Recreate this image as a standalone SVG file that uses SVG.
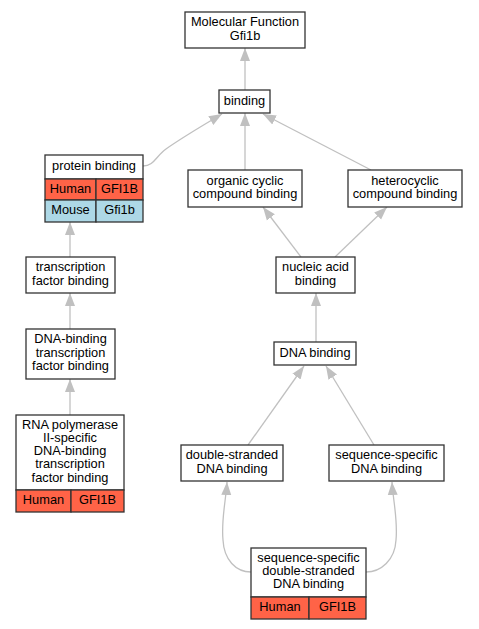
<svg xmlns="http://www.w3.org/2000/svg" width="479" height="629" viewBox="0 0 479 629">
<style>
.box{fill:#fff;stroke:#333;stroke-width:1.3}
.hu{fill:#ff6347;stroke:#333;stroke-width:1.3}
.mo{fill:#add8e6;stroke:#333;stroke-width:1.3}
text{font-family:"Liberation Sans",Arial,sans-serif;font-size:12.8px;fill:#000;text-anchor:middle}
.e{fill:none;stroke:#c0c0c0;stroke-width:1.3;marker-end:url(#ah)}
</style>
<defs>
<marker id="ah" markerUnits="userSpaceOnUse" markerWidth="14" markerHeight="11" refX="13" refY="5" orient="auto" viewBox="0 0 14 10">
<path d="M0,0 L13,5 L0,10 z" fill="#c0c0c0"/>
</marker>
</defs>
<g id="edges">
<path class="e" d="M245,90 L245,48"/>
<path class="e" d="M143,166 C154,166 156,156 166,149 C180,139 200,127 222,114"/>
<path class="e" d="M245,170 L245,113"/>
<path class="e" d="M371,170 L263,114"/>
<path class="e" d="M301,257 L263,207"/>
<path class="e" d="M335,257 L387,207"/>
<path class="e" d="M316,342 L316,293"/>
<path class="e" d="M70,257 L70,222"/>
<path class="e" d="M70,329 L70,293"/>
<path class="e" d="M70,415 L70,379"/>
<path class="e" d="M248,445 L304,366"/>
<path class="e" d="M374,445 L326,366"/>
<path class="e" d="M251,572 C236,572 224,560 223,540 C221,520 226,500 227,482"/>
<path class="e" d="M366,572 C381,572 395,560 396,540 C398,520 393,500 392,482"/>
</g>
<g id="mf">
<rect class="box" x="185" y="12" width="120" height="36"/>
<text x="245" y="26">Molecular Function</text>
<text x="245" y="40">Gfi1b</text>
</g>
<g id="binding">
<rect class="box" x="219" y="90" width="51" height="23"/>
<text x="244.5" y="105">binding</text>
</g>
<g id="protein_binding">
<rect class="box" x="45" y="155" width="98" height="24"/>
<text x="94" y="170">protein binding</text>
<rect class="hu" x="45" y="179" width="51" height="21"/>
<rect class="hu" x="96" y="179" width="47" height="21"/>
<text x="70.5" y="193">Human</text>
<text x="119.5" y="193">GFI1B</text>
<rect class="mo" x="45" y="200" width="51" height="22"/>
<rect class="mo" x="96" y="200" width="47" height="22"/>
<text x="70.5" y="214">Mouse</text>
<text x="119.5" y="214">Gfi1b</text>
</g>
<g id="organic">
<rect class="box" x="188" y="170" width="114" height="37"/>
<text x="245" y="185">organic cyclic</text>
<text x="245" y="198">compound binding</text>
</g>
<g id="hetero">
<rect class="box" x="348" y="170" width="114" height="37"/>
<text x="405" y="185">heterocyclic</text>
<text x="405" y="198">compound binding</text>
</g>
<g id="tf_binding">
<rect class="box" x="26" y="257" width="89" height="36"/>
<text x="70.5" y="271">transcription</text>
<text x="70.5" y="285">factor binding</text>
</g>
<g id="nucleic">
<rect class="box" x="276" y="257" width="79" height="36"/>
<text x="315.5" y="271">nucleic acid</text>
<text x="315.5" y="285">binding</text>
</g>
<g id="dna_tf">
<rect class="box" x="26" y="329" width="89" height="50"/>
<text x="70.5" y="343">DNA-binding</text>
<text x="70.5" y="357">transcription</text>
<text x="70.5" y="370">factor binding</text>
</g>
<g id="dna_binding">
<rect class="box" x="274" y="342" width="82" height="23"/>
<text x="315" y="357">DNA binding</text>
</g>
<g id="rna_pol">
<rect class="box" x="16" y="415" width="108" height="75"/>
<text x="70" y="429">RNA polymerase</text>
<text x="70" y="442">II-specific</text>
<text x="70" y="455">DNA-binding</text>
<text x="70" y="468">transcription</text>
<text x="70" y="482">factor binding</text>
<rect class="hu" x="16" y="490" width="55" height="22"/>
<rect class="hu" x="71" y="490" width="53" height="22"/>
<text x="43.5" y="504">Human</text>
<text x="97.5" y="504">GFI1B</text>
</g>
<g id="ds">
<rect class="box" x="181" y="445" width="102" height="36"/>
<text x="232" y="459">double-stranded</text>
<text x="232" y="473">DNA binding</text>
</g>
<g id="ss">
<rect class="box" x="329" y="445" width="115" height="36"/>
<text x="386.5" y="459">sequence-specific</text>
<text x="386.5" y="473">DNA binding</text>
</g>
<g id="ssds">
<rect class="box" x="251" y="548" width="115" height="49"/>
<text x="308.5" y="562">sequence-specific</text>
<text x="308.5" y="575">double-stranded</text>
<text x="308.5" y="588">DNA binding</text>
<rect class="hu" x="251" y="597" width="58" height="22"/>
<rect class="hu" x="309" y="597" width="57" height="22"/>
<text x="280" y="611">Human</text>
<text x="337.5" y="611">GFI1B</text>
</g>
</svg>
